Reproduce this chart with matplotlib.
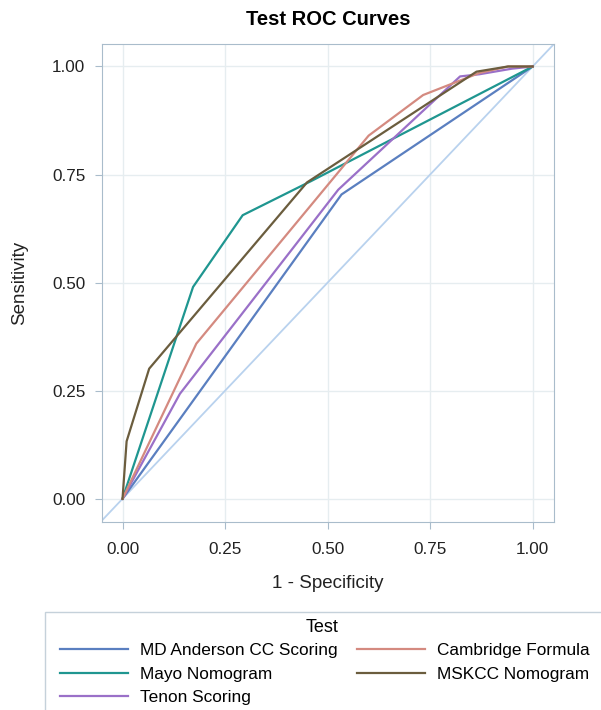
import matplotlib
matplotlib.use("Agg")
import matplotlib.pyplot as plt
from matplotlib.patches import Rectangle

plt.rcParams['font.family'] = ['Liberation Sans', 'DejaVu Sans']

# ROC curves (1 - specificity, sensitivity)
md_x = [0, 0.534, 1]
md_y = [0, 0.704, 1]
mayo_x = [0, 0.172, 0.293, 0.46, 1]
mayo_y = [0, 0.49, 0.656, 0.735, 1]
tenon_x = [0, 0.14, 0.526, 0.823, 0.87, 0.95, 1]
tenon_y = [0, 0.243, 0.715, 0.977, 0.982, 0.995, 1]
camb_x = [0, 0.18, 0.6, 0.733, 0.87, 0.94, 1]
camb_y = [0, 0.359, 0.84, 0.934, 0.985, 1, 1]
msk_x = [0, 0.01, 0.065, 0.45, 0.863, 0.94, 1]
msk_y = [0, 0.133, 0.301, 0.732, 0.988, 1, 1]

names = ["MD Anderson CC Scoring", "Mayo Nomogram", "Tenon Scoring",
         "Cambridge Formula", "MSKCC Nomogram"]
colors = ["#5a7fc0", "#1f9690", "#9a70c8", "#d48a80", "#6b5d3e"]
ticks = [0.00, 0.25, 0.50, 0.75, 1.00]

fig = plt.figure(figsize=(6.01, 7.10), dpi=100)
ax = fig.add_axes([102 / 601, 1 - 521.5 / 710, 452 / 601, 477.5 / 710])

ax.plot([-0.05, 1.05], [-0.05, 1.05], color="#b9d2ee", lw=1.3, zorder=1)

handles = []
for xs, ys, c in zip([md_x, mayo_x, tenon_x, camb_x, msk_x],
                     [md_y, mayo_y, tenon_y, camb_y, msk_y], colors):
    h, = ax.plot(xs, ys, color=c, lw=1.6, zorder=2)
    handles.append(h)

ax.set_xlim(-0.05, 1.052)
ax.set_ylim(-0.0525, 1.052)
ax.set_xticks(ticks)
ax.set_yticks(ticks)
ax.set_xticklabels([f"{t:.2f}" for t in ticks])
ax.set_yticklabels([f"{t:.2f}" for t in ticks])
ax.grid(True, color="#e6edf0", lw=1)
ax.set_axisbelow(True)
for s in ax.spines.values():
    s.set_color("#a9bccb")
ax.tick_params(colors="#a9bccb", labelcolor="#222222", labelsize=12.3,
               length=5, pad=7)
ax.tick_params(axis="x", pad=10)

ax.set_xlabel("1 - Specificity", fontsize=13.5, color="#222222", labelpad=13)
ax.set_ylabel("Sensitivity", fontsize=13.5, color="#222222", labelpad=17)
ax.set_title("Test ROC Curves", fontsize=14.5, fontweight="bold", pad=14)

# legend box runs off the right and bottom edges in the original
fig.patches.append(Rectangle((45 / 601, -0.05), 1.0, 1 - 612 / 710 + 0.05,
                             transform=fig.transFigure, fill=False,
                             edgecolor="#c5d1da", lw=1))
leg = fig.legend(handles, names, ncol=2, loc="upper left",
                 bbox_to_anchor=(60 / 601, 1 - 643 / 710),
                 fontsize=12.4, frameon=False, handlelength=3.95,
                 handletextpad=0.7, labelspacing=0.5, borderaxespad=0,
                 borderpad=0, columnspacing=1.1)
fig.text(322 / 601, 1 - 627 / 710, "Test", ha="center", va="center",
         fontsize=13)

fig.savefig("out.png", dpi=100)
